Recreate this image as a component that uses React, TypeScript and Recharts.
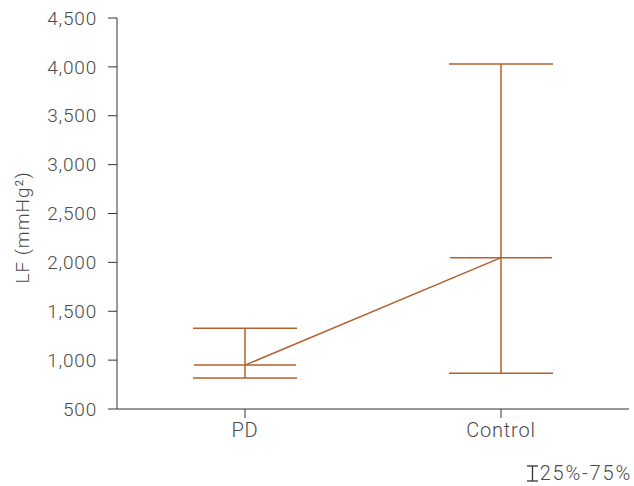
import { ComposedChart, Line, ErrorBar, XAxis, YAxis } from 'recharts'

const groups = ['PD', 'Control']
const medians = [949, 2048]
const q25 = [816, 867]
const q75 = [1327, 4030]
const yTicks = [500, 1000, 1500, 2000, 2500, 3000, 3500, 4000, 4500]

const data = groups.map((g, i) => ({
  group: g,
  median: medians[i],
  iqr: [medians[i] - q25[i], q75[i] - medians[i]],
}))

const color = '#b3602f'
const textColor = '#4a4a4a'
const font = 'Roboto, sans-serif'

const MedianDot = (props: any) => {
  const { cx, cy } = props
  return <line x1={cx - 51} x2={cx + 51} y1={cy} y2={cy} stroke={color} strokeWidth={1.5} />
}

const fmt = (v: number) => v.toLocaleString('en-US')

export default function App() {
  return (
    <div style={{ position: 'fixed', left: 0, top: 0, width: 634, height: 486, background: '#fff' }}>
      <ComposedChart width={634} height={486} data={data} margin={{ top: 18, right: 5, bottom: 0, left: 0 }}>
        <XAxis
          dataKey="group"
          height={77}
          tickSize={9}
          tickMargin={5}
          stroke="#333"
          padding={{ left: 128, right: 128 }}
          tick={{ fill: textColor, fontSize: 20, fontFamily: font, fontWeight: 300, letterSpacing: 0.8 }}
        />
        <YAxis
          type="number"
          domain={[500, 4500]}
          ticks={yTicks}
          width={117}
          tickSize={9}
          tickMargin={11}
          stroke="#333"
          tickFormatter={fmt}
          tick={{ fill: textColor, fontSize: 19, fontFamily: font, fontWeight: 300, letterSpacing: 0.8 }}
          label={{
            value: 'LF (mmHg²)',
            angle: -90,
            position: 'insideLeft',
            offset: 22,
            dy: 14,
            style: { fill: textColor, fontSize: 19, fontFamily: font, fontWeight: 300, letterSpacing: 1, textAnchor: 'middle' },
          }}
        />
        <Line
          dataKey="median"
          stroke={color}
          strokeWidth={1.5}
          dot={<MedianDot />}
          activeDot={false}
          isAnimationActive={false}
        >
          <ErrorBar dataKey="iqr" width={52} stroke={color} strokeWidth={1.5} direction="y" />
        </Line>
      </ComposedChart>
      <div
        style={{
          position: 'absolute',
          right: 2,
          top: 461,
          fontFamily: font,
          fontWeight: 300,
          fontSize: 20,
          letterSpacing: 1.8,
          color: textColor,
          display: 'flex',
          alignItems: 'center',
        }}
      >
        <svg width={13} height={20} style={{ marginRight: 1 }}>
          <line x1={1} x2={12} y1={3} y2={3} stroke="#333" strokeWidth={1.3} />
          <line x1={6.5} x2={6.5} y1={3} y2={18} stroke="#333" strokeWidth={1.3} />
          <line x1={1} x2={12} y1={18} y2={18} stroke="#333" strokeWidth={1.3} />
        </svg>
        <span>25%-75%</span>
      </div>
    </div>
  )
}
